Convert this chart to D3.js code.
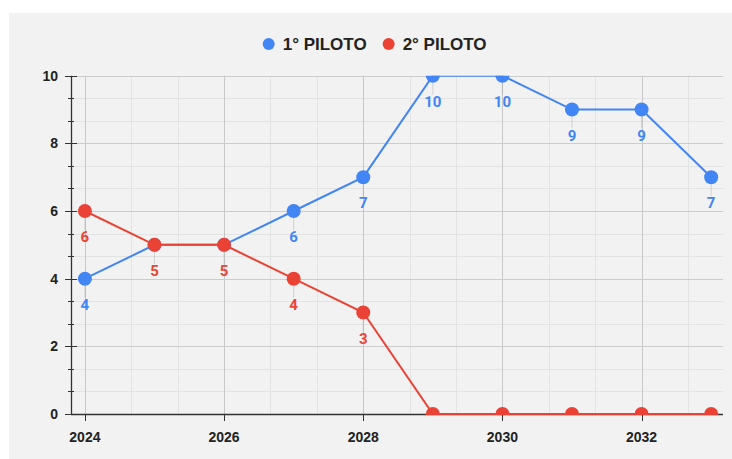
<!DOCTYPE html>
<html>
<head>
<meta charset="UTF-8">
<title>Piloti</title>
<script src="https://cdn.jsdelivr.net/npm/d3@7"></script>
<style>
  body { margin: 0; background: #fff; }
  svg { display: block; }
</style>
</head>
<body>
<div id="chart"></div>
<script>
// data
var years = [2024, 2025, 2026, 2027, 2028, 2029, 2030, 2031, 2032, 2033];
var piloto1 = [4, 5, 5, 6, 7, 10, 10, 9, 9, 7];
var piloto2 = [6, 5, 5, 4, 3, 0, 0, 0, 0, 0];
var seriesNames = ["1° PILOTO", "2° PILOTO"];
var seriesColors = ["#4285f4", "#ea4335"];
var xTicks = [2024, 2026, 2028, 2030, 2032];
var yTicks = [0, 2, 4, 6, 8, 10];

var W = 732, H = 459;
var plot = { left: 71, right: 723, top: 75.7, bottom: 414 };

var svg = d3.select("#chart").append("svg")
    .attr("width", W)
    .attr("height", H);

// grey panel
svg.append("rect")
    .attr("x", 9).attr("y", 13)
    .attr("width", W - 9).attr("height", H - 13)
    .attr("fill", "#f2f2f2");

var x = d3.scaleLinear()
    .domain([2023.8, 2033.17])
    .range([plot.left, plot.right]);
var y = d3.scaleLinear()
    .domain([0, 10])
    .range([plot.bottom, plot.top]);

// minor values: 3 steps per major interval
var xMinor = d3.range(2024, 2033.2, 2 / 3).filter(function (v) { return Math.abs((v - 2024) / 2 - Math.round((v - 2024) / 2)) > 0.01; });
var yMinor = d3.range(0, 10, 2 / 3).filter(function (v) { return Math.abs(v / 2 - Math.round(v / 2)) > 0.01; });

var grid = svg.append("g");
grid.selectAll(".xmin").data(xMinor).enter().append("line")
    .attr("x1", function (d) { return Math.round(x(d)) + 0.5; })
    .attr("x2", function (d) { return Math.round(x(d)) + 0.5; })
    .attr("y1", plot.top).attr("y2", plot.bottom)
    .attr("stroke", "#e3e3e3");
grid.selectAll(".ymin").data(yMinor).enter().append("line")
    .attr("y1", function (d) { return Math.round(y(d)) + 0.5; })
    .attr("y2", function (d) { return Math.round(y(d)) + 0.5; })
    .attr("x1", plot.left).attr("x2", plot.right)
    .attr("stroke", "#e3e3e3");
grid.selectAll(".xmaj").data(xTicks).enter().append("line")
    .attr("x1", function (d) { return Math.round(x(d)) + 0.5; })
    .attr("x2", function (d) { return Math.round(x(d)) + 0.5; })
    .attr("y1", plot.top).attr("y2", plot.bottom)
    .attr("stroke", "#c8c8c8");
grid.selectAll(".ymaj").data(yTicks).enter().append("line")
    .attr("y1", function (d) { return Math.round(y(d)) + 0.5; })
    .attr("y2", function (d) { return Math.round(y(d)) + 0.5; })
    .attr("x1", plot.left).attr("x2", plot.right)
    .attr("stroke", "#cccccc");

// axes lines and ticks
var axes = svg.append("g").attr("stroke", "#333");
axes.append("line")
    .attr("x1", plot.left + 0.5).attr("x2", plot.left + 0.5)
    .attr("y1", plot.top).attr("y2", plot.bottom)
    .attr("stroke-width", 1.3);
axes.append("line")
    .attr("x1", plot.left).attr("x2", plot.right)
    .attr("y1", plot.bottom + 0.5).attr("y2", plot.bottom + 0.5)
    .attr("stroke-width", 1.3);
axes.selectAll(".ytick").data(yTicks).enter().append("line")
    .attr("x1", plot.left - 6).attr("x2", plot.left + 6)
    .attr("y1", function (d) { return Math.round(y(d)) + 0.5; })
    .attr("y2", function (d) { return Math.round(y(d)) + 0.5; });
axes.selectAll(".ytickm").data(yMinor).enter().append("line")
    .attr("x1", plot.left - 3).attr("x2", plot.left + 3)
    .attr("y1", function (d) { return Math.round(y(d)) + 0.5; })
    .attr("y2", function (d) { return Math.round(y(d)) + 0.5; });
axes.selectAll(".xtick").data(xTicks).enter().append("line")
    .attr("x1", function (d) { return Math.round(x(d)) + 0.5; })
    .attr("x2", function (d) { return Math.round(x(d)) + 0.5; })
    .attr("y1", plot.bottom).attr("y2", plot.bottom + 7);

// tick labels
svg.append("g").selectAll("text").data(yTicks).enter().append("text")
    .attr("x", 58)
    .attr("y", function (d) { return y(d) + 5; })
    .attr("text-anchor", "end")
    .style("font", "bold 14px 'Liberation Sans', Arial, sans-serif")
    .attr("fill", "#222")
    .text(function (d) { return d; });
svg.append("g").selectAll("text").data(xTicks).enter().append("text")
    .attr("x", function (d) { return x(d); })
    .attr("y", 442)
    .attr("text-anchor", "middle")
    .style("font", "bold 14px 'Liberation Sans', Arial, sans-serif")
    .attr("fill", "#222")
    .text(function (d) { return d; });

// clip to plot area
svg.append("clipPath").attr("id", "plotclip")
    .append("rect")
    .attr("x", plot.left).attr("y", plot.top)
    .attr("width", plot.right - plot.left)
    .attr("height", plot.bottom - plot.top + 1);

var series = [piloto1, piloto2];
var marks = svg.append("g").attr("clip-path", "url(#plotclip)");
var line = d3.line()
    .x(function (d, i) { return x(years[i]); })
    .y(function (d) { return y(d); });

series.forEach(function (vals, s) {
    var g = marks.append("g");
    g.append("path")
        .datum(vals)
        .attr("d", line)
        .attr("fill", "none")
        .attr("stroke", seriesColors[s])
        .attr("stroke-width", 2);
    g.selectAll("circle").data(vals).enter().append("circle")
        .attr("cx", function (d, i) { return x(years[i]); })
        .attr("cy", function (d) { return y(d); })
        .attr("r", 7)
        .attr("fill", seriesColors[s]);
});

// annotations under the points, skip overlaps and ones below the plot
var placed = [];
var annG = svg.append("g");
[1, 0].forEach(function (s) {
    series[s].forEach(function (v, i) {
        var cx = x(years[i]), cy = y(v);
        var ty = cy + 31;
        if (ty > plot.bottom) return;
        var hit = placed.some(function (p) { return Math.abs(p[0] - cx) < 14 && Math.abs(p[1] - ty) < 14; });
        if (hit) return;
        placed.push([cx, ty]);
        annG.append("line")
            .attr("x1", cx).attr("x2", cx)
            .attr("y1", cy + 7).attr("y2", ty - 12)
            .attr("stroke", "#999").attr("stroke-opacity", 0.35);
        annG.append("text")
            .attr("x", cx).attr("y", ty)
            .attr("text-anchor", "middle")
            .style("font", "bold 15px Roboto, sans-serif")
            .attr("fill", seriesColors[s])
            .text(v);
    });
});

// legend
var legend = svg.append("g");
var lx = 262.7;
seriesNames.forEach(function (name, s) {
    legend.append("circle")
        .attr("cx", lx + 6).attr("cy", 44).attr("r", 6)
        .attr("fill", seriesColors[s]);
    var t = legend.append("text")
        .attr("x", lx + 20).attr("y", 50)
        .style("font", "bold 17px 'Liberation Sans', Arial, sans-serif")
        .attr("fill", "#222")
        .text(name);
    lx += 20 + t.node().getComputedTextLength() + 16;
});
</script>
</body>
</html>
